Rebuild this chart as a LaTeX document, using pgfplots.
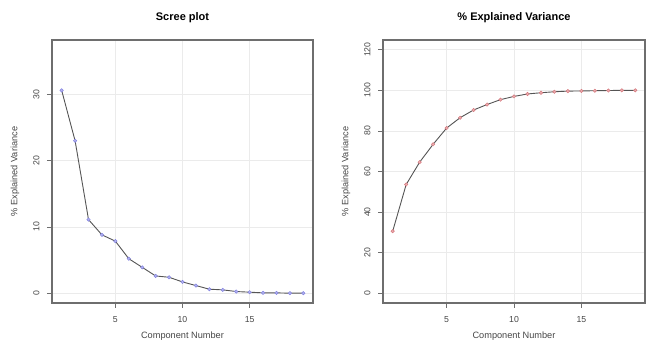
\documentclass[border=0pt]{standalone}
\usepackage{fontspec}
\setmainfont{Liberation Sans}
\usepackage{pgfplots}
\pgfplotsset{compat=1.18}
\definecolor{framegray}{RGB}{110,110,110}
\definecolor{gridgray}{RGB}{235,235,235}
\definecolor{linegray}{RGB}{85,85,85}
\definecolor{ptblue}{RGB}{130,130,225}
\definecolor{ptred}{RGB}{215,120,125}
\definecolor{textgray}{RGB}{70,70,70}
\pgfplotsset{
  rstyle/.style={
    scale only axis,
    width=261pt, height=263pt,
    xmin=0.28, xmax=19.72,
    xtick={5,10,15},
    axis line style={framegray, line width=1.1pt},
    tick style={framegray, line width=0.8pt},
    tick align=outside,
    major tick length=5pt,
    xtick pos=bottom, ytick pos=left,
    grid=major,
    grid style={gridgray, line width=0.6pt},
    ticklabel style={font=\fontsize{8.7}{10}\selectfont, text=textgray},
    yticklabel style={rotate=90, anchor=south, yshift=4pt},
    xticklabel style={anchor=north, yshift=-5pt},
    /pgf/number format/assume math mode=true,
    xlabel={Component Number},
    ylabel={\% Explained Variance},
    label style={font=\fontsize{9.2}{10}\selectfont, text=textgray},
    xlabel style={at={(axis description cs:0.5,0)}, anchor=center, yshift=-33pt},
    ylabel style={at={(axis description cs:0,0.5)}, anchor=center, yshift=37pt},
    title style={at={(axis description cs:0.5,1)}, anchor=center, yshift=16pt, font=\fontsize{11}{12}\selectfont\bfseries},
  }
}
\begin{document}
\begin{tikzpicture}
\useasboundingbox (0pt,0pt) rectangle (646pt,352pt);
\begin{axis}[rstyle, at={(52pt,49pt)}, anchor=south west,
  ymin=-1.48, ymax=38.2, ytick={0,10,20,30},
  title={Scree plot}]
\addplot[linegray, line width=0.9pt, mark=*, mark size=1.7pt,
  mark options={draw=ptblue, fill=ptblue!60, line width=0.5pt}]
coordinates {
(1,30.6) (2,23.0) (3,11.1) (4,8.8) (5,7.85) (6,5.2) (7,3.9) (8,2.6) (9,2.4) (10,1.7)
(11,1.15) (12,0.6) (13,0.5) (14,0.25) (15,0.15) (16,0.05) (17,0.05) (18,0.0) (19,0.0)
};
\end{axis}
\begin{axis}[rstyle, at={(383pt,49pt)}, anchor=south west,
  width=262pt,
  ymin=-4.8, ymax=124.8, ytick={0,20,40,60,80,100,120},
  title={\% Explained Variance}]
\addplot[linegray, line width=0.9pt, mark=*, mark size=1.7pt,
  mark options={draw=ptred, fill=ptred!60, line width=0.5pt}]
coordinates {
(1,30.6) (2,53.6) (3,64.6) (4,73.4) (5,81.4) (6,86.5) (7,90.3) (8,93.0) (9,95.4) (10,97.0)
(11,98.2) (12,98.8) (13,99.3) (14,99.6) (15,99.7) (16,99.8) (17,99.9) (18,100.0) (19,100.0)
};
\end{axis}
\end{tikzpicture}
\end{document}
